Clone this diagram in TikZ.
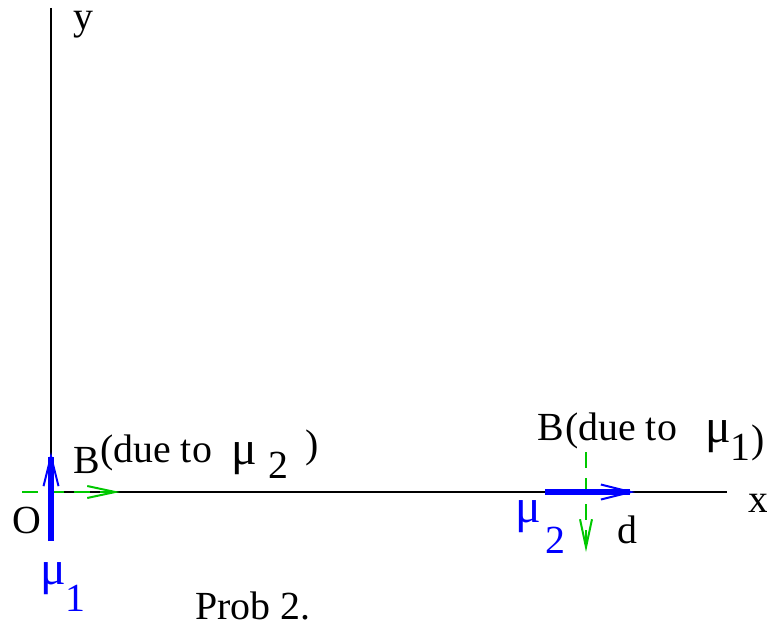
\documentclass[tikz,border=0pt]{standalone}
\usepackage{fontspec}
\setmainfont{Liberation Serif}
\usetikzlibrary{arrows.meta}
\definecolor{fieldgreen}{RGB}{0,200,0}
\tikzset{
  lbl/.style={anchor=base west, inner sep=0pt, font=\fontsize{40}{44}\selectfont},
  mulbl/.style={anchor=base west, inner sep=0pt, font=\fontsize{48}{52}\selectfont},
  moment/.style={blue, line width=6bp, -{Straight Barb[length=30bp,width=15bp,line width=2bp]}},
  field/.style={fieldgreen, line width=2bp, dash pattern=on 16bp off 10bp, -{Straight Barb[length=28bp,width=12bp,line width=2bp,sep=0pt]}}
}

\begin{document}
\begin{tikzpicture}[x=1bp,y=-1bp]
                        \useasboundingbox (0,0) rectangle (767,627);
                        \coordinate (O) at (51,492);
                        \coordinate (ytop) at (51,8);
                        \coordinate (xend) at (727,492);
                        \coordinate (m1a) at (51,541);
                        \coordinate (m1b) at (51,452);
                        \coordinate (m2a) at (545,492);
                        \coordinate (m2b) at (635,492);
                        \coordinate (b1a) at (22,492);
                        \coordinate (b1b) at (120,492);
                        \coordinate (b2a) at (586,452);
                        \coordinate (b2b) at (586,552);
                        \draw[line width=1.2bp] (ytop) -- (O) -- (xend);
                        \draw[field] (b1a) -- (b1b);
                        \draw[field] (b2a) -- (b2b);
                        \draw[moment] (m1a) -- (m1b);
                        \draw[moment] (m2a) -- (m2b);
                        \node[lbl] (ylab) at (73,30) {y};
                        \node[lbl] (xlab) at (748,512) {x};
                        \node[lbl] (olab) at (12,533) {O};
                        \node[lbl] (dlab) at (617,543) {d};
                        \node[lbl] (prob) at (195,619) {Prob 2.};
                        \node[lbl] (bl) at (73,473) {B};
                        \node[lbl] (bldue) at (100,462) {(due to};
                        \node[mulbl] (blmu) at (231,464) {μ};
                        \node[lbl] (blsub) at (268,478) {2};
                        \node[lbl] (blpar) at (305,457) {)};
                        \node[lbl] (br) at (537,440) {B};
                        \node[lbl] (brdue) at (565,440) {(due to};
                        \node[mulbl] (brmu) at (705,442) {μ};
                        \node[lbl] (brsub) at (730,460) {1};
                        \node[lbl] (brpar) at (751,452) {)};
                        \node[mulbl, blue] (mua) at (40,584) {μ};
                        \node[lbl, blue] (mua1) at (65,611) {1};
                        \node[mulbl, blue] (mub) at (515,522) {μ};
                        \node[lbl, blue] (mub2) at (545,553) {2};
                    \end{tikzpicture}
\end{document}
